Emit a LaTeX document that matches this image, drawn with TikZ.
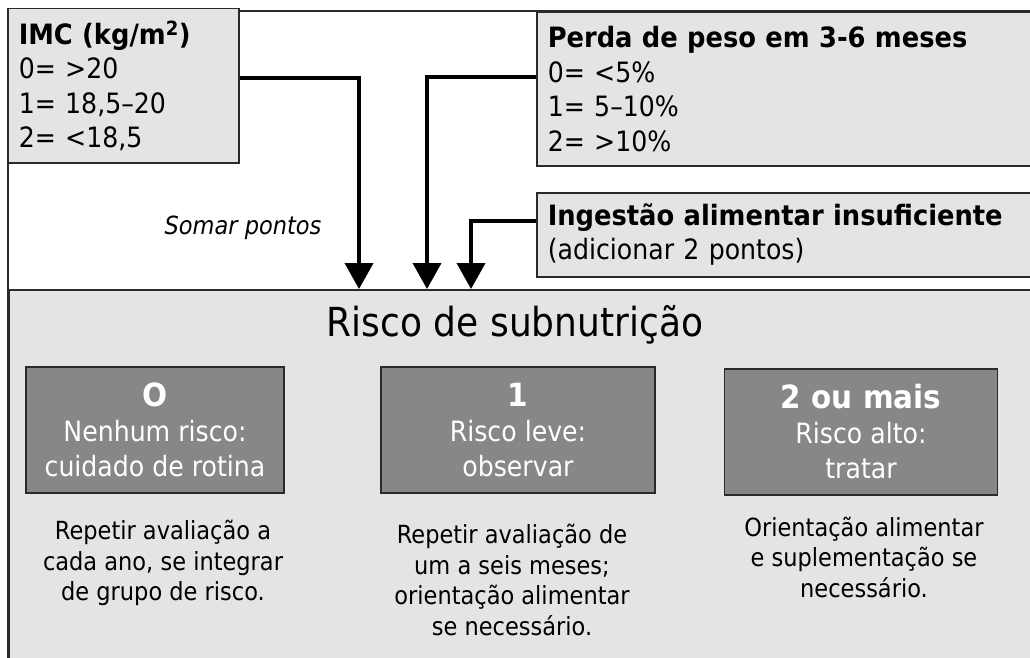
\documentclass[tikz,border=0pt]{standalone}
\usepackage{fontspec}
\setmainfont{DejaVu Sans}[FakeStretch=0.9,BoldFeatures={FakeStretch=0.92}]
\usetikzlibrary{arrows.meta}

\definecolor{panelgray}{HTML}{E4E4E4}
\definecolor{boxgray}{HTML}{878787}
\definecolor{edgegray}{HTML}{2A2A2A}

\tikzset{
  scorebox/.style={draw=edgegray, line width=1.5pt, fill=panelgray, align=left,
    inner xsep=11pt, anchor=north west, font=\fontsize{28}{34.5}\selectfont},
  riskbox/.style={draw=edgegray, line width=1.5pt, fill=boxgray, text=white,
    align=center, minimum height=126pt, font=\fontsize{28}{35}\selectfont},
  advice/.style={align=center, font=\fontsize{25}{30.5}\selectfont},
  flow/.style={line width=4pt, -{Triangle[width=28pt,length=26pt]}},
}

\begin{document}
\begin{tikzpicture}[x=1pt,y=-1pt] % pixel grid of the reference
\clip (0,0) rectangle (1030,658);
\fill[white] (0,0) rectangle (1030,658);
\draw[line width=1.5pt, edgegray] (8,680) -- (8,11) -- (1050,11);

% input boxes
\node[scorebox, minimum width=231pt, minimum height=154pt, text width=209pt] (imc) at (7,8)
  {\textbf{IMC (kg/m\textsuperscript{2})}\\0= >20\\1= 18,5–20\\2= <18,5};
\node[scorebox, minimum width=520pt, minimum height=153pt, text width=498pt] (loss) at (536,12)
  {\textbf{Perda de peso em 3-6 meses}\\0= <5\%\\1= 5–10\%\\2= >10\%};
\node[scorebox, minimum width=520pt, minimum height=84pt, text width=498pt] (food) at (536,192)
  {\textbf{Ingestão alimentar insuficiente}\\(adicionar 2 pontos)};
\node[font=\fontsize{25}{30}\selectfont\itshape] (sum) at (243,228) {Somar pontos};

% result panel
\node[draw=edgegray, line width=1.5pt, fill=panelgray, anchor=north west,
  minimum width=1050pt, minimum height=400pt] (panel) at (8,289) {};
\node[font=\fontsize{40}{48}\selectfont] (title) at (515,325) {Risco de subnutrição};

\node[riskbox, minimum width=258pt] (none) at (155,430)
  {{\fontsize{32}{35}\selectfont\bfseries O}\\Nenhum risco:\\cuidado de rotina};
\node[riskbox, minimum width=274pt] (low) at (518,430)
  {{\fontsize{32}{35}\selectfont\bfseries 1}\\Risco leve:\\observar};
\node[riskbox, minimum width=273pt] (high) at (861,432)
  {{\fontsize{32}{35}\selectfont\bfseries 2 ou mais}\\Risco alto:\\tratar};

\node[advice] (nonetxt) at (163,563)
  {Repetir avaliação a\\cada ano, se integrar\\de grupo de risco.};
\node[advice] (lowtxt) at (512,580)
  {Repetir avaliação de\\um a seis meses;\\orientação alimentar\\se necessário.};
\node[advice] (hightxt) at (864,557)
  {Orientação alimentar\\e suplementação se\\necessário.};

% arrows into the panel
\coordinate (bendimc) at (359,78);
\coordinate (bendloss) at (427,77);
\coordinate (bendfood) at (471,221);
\foreach \src/\bend in {imc.east/bendimc, loss.west/bendloss, food.west/bendfood} {
\draw[flow] (\src |- \bend) -- (\bend) -- (\bend |- panel.north);
}
\end{tikzpicture}
\end{document}
